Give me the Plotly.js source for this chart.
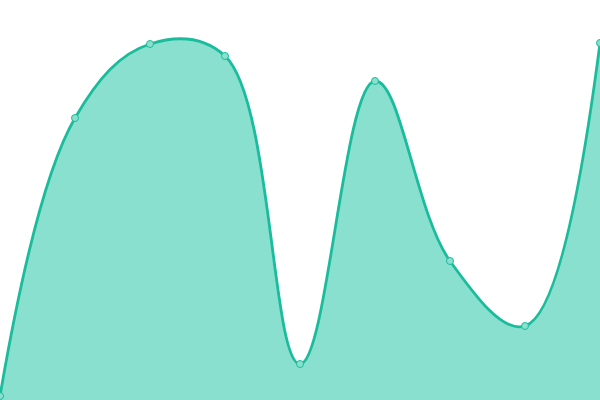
<!DOCTYPE html>
<html>
<head>
<meta charset="utf-8">
<script src="https://cdn.plot.ly/plotly-3.0.1.min.js"></script>
<style>
  html, body { margin: 0; padding: 0; background: #fff; }
  #plot { width: 600px; height: 400px; }
</style>
</head>
<body>
<div id="plot"></div>
<script>
'use strict';

const xValues = [0, 1, 2, 3, 4, 5, 6, 7, 8];
const yValues = [4, 282, 356, 344, 36, 319, 139, 74, 357];

var trace = {
  type: 'scatter',
  mode: 'lines+markers',
  x: xValues,
  y: yValues,
  fill: 'tozeroy',
  fillcolor: '#8ae0ce',
  line: {color: '#1abc9c', width: 2.8, shape: 'spline', smoothing: 1.1},
  marker: {size: 7, color: '#8ae0ce', line: {color: '#1abc9c', width: 1}}
};

var layout = {
  width: 600,
  height: 400,
  paper_bgcolor: '#FFFFFF',
  plot_bgcolor: '#FFFFFF',
  showlegend: false,
  margin: {l: 0, r: 0, b: 0, t: 0},
  xaxis: {range: [0, 8], visible: false, fixedrange: true},
  yaxis: {range: [0, 400], visible: false, fixedrange: true}
};

Plotly.newPlot('plot', [trace], layout, {displayModeBar: false, staticPlot: true});
</script>
</body>
</html>
